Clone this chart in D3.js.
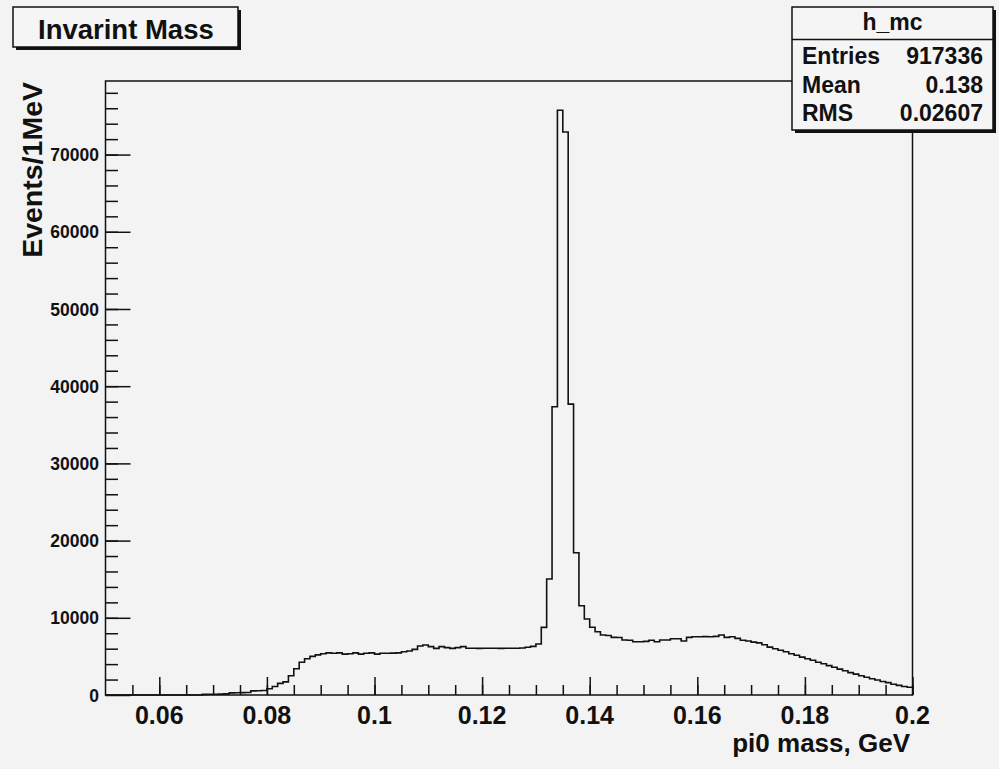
<!DOCTYPE html>
<html>
<head>
<meta charset="utf-8">
<script src="https://cdn.jsdelivr.net/npm/d3@7"></script>
<style>
  body { margin: 0; background: #f3f3f3; }
  text { font-family: "Liberation Sans", Arial, sans-serif; font-weight: bold; fill: #111; }
</style>
</head>
<body>
<script>
// histogram h_mc: 150 bins of 1 MeV from 0.05 to 0.2 GeV
var binLow = 0.05, binWidth = 0.001;
var counts = [
  0, 0, 0, 0, 0, 0, 0, 0, 0, 0,
  0, 0, 0, 0, 0, 0, 0, 0, 80, 90,
  100, 110, 150, 280, 300, 310, 320, 540, 560, 580,
  800, 1100, 1500, 1700, 2500, 3400, 4250, 4700, 5000, 5200,
  5350, 5450, 5400, 5450, 5300, 5350, 5450, 5300, 5400, 5450,
  5300, 5400, 5400, 5420, 5450, 5610, 5700, 5910, 6340, 6475,
  6260, 6040, 6260, 6130, 6040, 6130, 6260, 6050, 6050, 6040,
  6050, 6060, 6050, 6040, 6050, 6060, 6050, 6080, 6180, 6300,
  6600, 8760, 15020, 37330, 75740, 72930, 37680, 18420, 11560, 9840,
  8770, 8200, 7770, 7700, 7470, 7450, 7120, 7100, 6900, 6900,
  6950, 7100, 6900, 7120, 7120, 7290, 7290, 7000, 7470, 7550,
  7550, 7560, 7550, 7600, 7770, 7470, 7550, 7340, 7100, 7000,
  6850, 6750, 6500, 6200, 6000, 5800, 5600, 5350, 5150, 4900,
  4700, 4500, 4250, 4050, 3800, 3600, 3350, 3150, 2900, 2700,
  2500, 2300, 2100, 1950, 1750, 1600, 1400, 1250, 1100, 1000
];
var xTicks = [0.06, 0.08, 0.1, 0.12, 0.14, 0.16, 0.18, 0.2];
var yTicks = [0, 10000, 20000, 30000, 40000, 50000, 60000, 70000];
var statNames = ["Entries", "Mean", "RMS"];
var statValues = ["917336", "0.138", "0.02607"];

var W = 999, H = 769;
var frame = { left: 105.5, right: 912.5, top: 81, bottom: 695 };

var x = d3.scaleLinear().domain([0.05, 0.2]).range([frame.left, frame.right]);
var y = d3.scaleLinear().domain([0, 79530]).range([frame.bottom, frame.top]);

var svg = d3.select("body").append("svg")
    .attr("width", W)
    .attr("height", H);

svg.append("rect").attr("width", W).attr("height", H).attr("fill", "#f3f3f3");

// frame
svg.append("rect")
    .attr("x", frame.left).attr("y", frame.top)
    .attr("width", frame.right - frame.left).attr("height", frame.bottom - frame.top)
    .attr("fill", "#f3f3f3").attr("stroke", "#111").attr("stroke-width", 1.5);

// histogram outline
var pts = counts.map((c, i) => [binLow + i * binWidth, c]);
pts.push([binLow + counts.length * binWidth, counts[counts.length - 1]]);

var line = d3.line()
    .curve(d3.curveStepAfter)
    .x(d => x(d[0]))
    .y(d => y(d[1]));

svg.append("path")
    .datum(pts)
    .attr("d", line)
    .attr("fill", "none")
    .attr("stroke", "#111")
    .attr("stroke-width", 1.6);

// x axis ticks, drawn upward into the frame
var xMinor = d3.range(0.055, 0.2, 0.005);
var xAxisMinor = d3.axisTop(x).tickValues(xMinor).tickSize(10).tickFormat("");
var xAxisMajor = d3.axisTop(x).tickValues(xTicks).tickSize(18).tickFormat("");

svg.append("g").attr("class", "x minor")
    .attr("transform", "translate(0," + frame.bottom + ")")
    .call(xAxisMinor);
svg.append("g").attr("class", "x major")
    .attr("transform", "translate(0," + frame.bottom + ")")
    .call(xAxisMajor);

// y axis ticks, drawn to the right into the frame
var yMinor = d3.range(2000, 79530, 2000);
var yAxisMinor = d3.axisRight(y).tickValues(yMinor).tickSize(12.5).tickFormat("");
var yAxisMajor = d3.axisRight(y).tickValues(yTicks).tickSize(25).tickFormat("");

svg.append("g").attr("class", "y minor")
    .attr("transform", "translate(" + frame.left + ",0)")
    .call(yAxisMinor);
svg.append("g").attr("class", "y major")
    .attr("transform", "translate(" + frame.left + ",0)")
    .call(yAxisMajor);

svg.selectAll(".domain").remove();
svg.selectAll(".tick line").attr("stroke", "#111").attr("stroke-width", 1.5);

// tick labels
svg.append("g").selectAll("text")
    .data(xTicks)
    .enter().append("text")
    .attr("x", d => x(d))
    .attr("y", 724)
    .attr("text-anchor", "middle")
    .style("font-size", "25px")
    .text(d => d3.format("~g")(d));

svg.append("g").selectAll("text")
    .data(yTicks)
    .enter().append("text")
    .attr("x", 99)
    .attr("y", d => y(d))
    .attr("dy", "0.38em")
    .attr("text-anchor", "end")
    .style("font-size", "17.5px")
    .text(d => d);

// axis titles
svg.append("text")
    .attr("x", 910).attr("y", 752)
    .attr("text-anchor", "end")
    .style("font-size", "26px")
    .text("pi0 mass, GeV");

svg.append("text")
    .attr("transform", "translate(42,82) rotate(-90)")
    .attr("text-anchor", "end")
    .style("font-size", "28.5px")
    .text("Events/1MeV");

// title box with shadow
svg.append("rect").attr("x", 16).attr("y", 10).attr("width", 225).attr("height", 40).attr("fill", "#111");
svg.append("rect").attr("x", 13).attr("y", 7).attr("width", 225).attr("height", 40)
    .attr("fill", "#f5f5f5").attr("stroke", "#111").attr("stroke-width", 1.5);
svg.append("text")
    .attr("x", 38).attr("y", 39)
    .style("font-size", "27.5px")
    .text("Invarint Mass");

// stats box with shadow
var sb = { x: 792, y: 7, w: 201, h: 123 };
svg.append("rect").attr("x", sb.x + 3).attr("y", sb.y + 3).attr("width", sb.w).attr("height", sb.h).attr("fill", "#111");
svg.append("rect").attr("x", sb.x).attr("y", sb.y).attr("width", sb.w).attr("height", sb.h)
    .attr("fill", "#f5f5f5").attr("stroke", "#111").attr("stroke-width", 1.5);
svg.append("line")
    .attr("x1", sb.x).attr("x2", sb.x + sb.w)
    .attr("y1", 39.5).attr("y2", 39.5)
    .attr("stroke", "#111").attr("stroke-width", 1.5);
svg.append("text")
    .attr("x", sb.x + sb.w / 2).attr("y", 30)
    .attr("text-anchor", "middle")
    .style("font-size", "23px")
    .text("h_mc");

var rowY = [64, 93, 120.5];
svg.append("g").selectAll("text")
    .data(statNames)
    .enter().append("text")
    .attr("x", 802)
    .attr("y", (d, i) => rowY[i])
    .style("font-size", "23px")
    .text(d => d);
svg.append("g").selectAll("text")
    .data(statValues)
    .enter().append("text")
    .attr("x", 983)
    .attr("y", (d, i) => rowY[i])
    .attr("text-anchor", "end")
    .style("font-size", "23px")
    .text(d => d);
</script>
</body>
</html>
